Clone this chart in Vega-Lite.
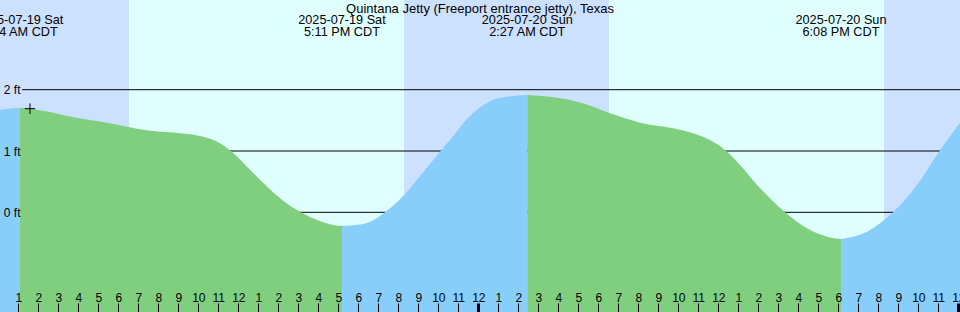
{
  "$schema": "https://vega.github.io/schema/vega-lite/v6.json",
  "width": 960,
  "height": 312,
  "padding": 0,
  "autosize": {"type": "none"},
  "background": "white",
  "view": {"stroke": null},
  "config": {"font": "Liberation Sans"},
  "datasets": {
    "bands": [
      {"start": 0, "end": 6.535, "kind": "night"},
      {"start": 6.535, "end": 20.285, "kind": "day"},
      {"start": 20.285, "end": 30.535, "kind": "night"},
      {"start": 30.535, "end": 44.285, "kind": "day"},
      {"start": 44.285, "end": 48.3, "kind": "night"}
    ],
    "grid": [{"ft": 0}, {"ft": 1}, {"ft": 2}],
    "tide": [
      {"h": 0, "ft": 1.668, "phase": "rise", "seg": 1},
      {"h": 0.5, "ft": 1.69, "phase": "rise", "seg": 1},
      {"h": 1.0667, "ft": 1.7, "phase": "rise", "seg": 1},
      {"h": 1.0667, "ft": 1.7, "phase": "fall", "seg": 2},
      {"h": 1.585, "ft": 1.688, "phase": "fall", "seg": 2},
      {"h": 2.585, "ft": 1.635, "phase": "fall", "seg": 2},
      {"h": 3.435, "ft": 1.572, "phase": "fall", "seg": 2},
      {"h": 5.085, "ft": 1.48, "phase": "fall", "seg": 2},
      {"h": 6.435, "ft": 1.396, "phase": "fall", "seg": 2},
      {"h": 7.585, "ft": 1.33, "phase": "fall", "seg": 2},
      {"h": 9.085, "ft": 1.289, "phase": "fall", "seg": 2},
      {"h": 10.085, "ft": 1.245, "phase": "fall", "seg": 2},
      {"h": 10.935, "ft": 1.15, "phase": "fall", "seg": 2},
      {"h": 11.685, "ft": 0.984, "phase": "fall", "seg": 2},
      {"h": 12.585, "ft": 0.695, "phase": "fall", "seg": 2},
      {"h": 13.435, "ft": 0.42, "phase": "fall", "seg": 2},
      {"h": 14.235, "ft": 0.19, "phase": "fall", "seg": 2},
      {"h": 15.085, "ft": 0.01, "phase": "fall", "seg": 2},
      {"h": 15.935, "ft": -0.125, "phase": "fall", "seg": 2},
      {"h": 16.735, "ft": -0.205, "phase": "fall", "seg": 2},
      {"h": 17.183, "ft": -0.224, "phase": "fall", "seg": 2},
      {"h": 17.183, "ft": -0.224, "phase": "rise", "seg": 3},
      {"h": 18.085, "ft": -0.2, "phase": "rise", "seg": 3},
      {"h": 18.685, "ft": -0.14, "phase": "rise", "seg": 3},
      {"h": 19.335, "ft": 0.0, "phase": "rise", "seg": 3},
      {"h": 20.285, "ft": 0.282, "phase": "rise", "seg": 3},
      {"h": 20.785, "ft": 0.47, "phase": "rise", "seg": 3},
      {"h": 21.435, "ft": 0.73, "phase": "rise", "seg": 3},
      {"h": 22.085, "ft": 0.989, "phase": "rise", "seg": 3},
      {"h": 22.585, "ft": 1.179, "phase": "rise", "seg": 3},
      {"h": 23.435, "ft": 1.52, "phase": "rise", "seg": 3},
      {"h": 24.235, "ft": 1.745, "phase": "rise", "seg": 3},
      {"h": 25.085, "ft": 1.87, "phase": "rise", "seg": 3},
      {"h": 26.45, "ft": 1.914, "phase": "rise", "seg": 3},
      {"h": 26.45, "ft": 1.914, "phase": "fall", "seg": 4},
      {"h": 27.585, "ft": 1.886, "phase": "fall", "seg": 4},
      {"h": 29.235, "ft": 1.778, "phase": "fall", "seg": 4},
      {"h": 30.585, "ft": 1.615, "phase": "fall", "seg": 4},
      {"h": 32.085, "ft": 1.462, "phase": "fall", "seg": 4},
      {"h": 33.735, "ft": 1.37, "phase": "fall", "seg": 4},
      {"h": 34.735, "ft": 1.289, "phase": "fall", "seg": 4},
      {"h": 35.585, "ft": 1.179, "phase": "fall", "seg": 4},
      {"h": 36.435, "ft": 0.989, "phase": "fall", "seg": 4},
      {"h": 37.085, "ft": 0.772, "phase": "fall", "seg": 4},
      {"h": 37.935, "ft": 0.45, "phase": "fall", "seg": 4},
      {"h": 38.735, "ft": 0.18, "phase": "fall", "seg": 4},
      {"h": 39.335, "ft": 0.0, "phase": "fall", "seg": 4},
      {"h": 40.435, "ft": -0.261, "phase": "fall", "seg": 4},
      {"h": 41.435, "ft": -0.398, "phase": "fall", "seg": 4},
      {"h": 42.133, "ft": -0.436, "phase": "fall", "seg": 4},
      {"h": 42.133, "ft": -0.436, "phase": "rise", "seg": 5},
      {"h": 43.435, "ft": -0.316, "phase": "rise", "seg": 5},
      {"h": 44.735, "ft": 0.0, "phase": "rise", "seg": 5},
      {"h": 45.935, "ft": 0.445, "phase": "rise", "seg": 5},
      {"h": 47.035, "ft": 0.989, "phase": "rise", "seg": 5},
      {"h": 48.085, "ft": 1.462, "phase": "rise", "seg": 5}
    ],
    "marker": [{"h": 1.585, "ft": 1.69}],
    "events": [
      {"h": 1.0667, "label": "2025-07-19 Sat\n1:04 AM CDT"},
      {"h": 17.183, "label": "2025-07-19 Sat\n5:11 PM CDT"},
      {"h": 26.45, "label": "2025-07-20 Sun\n2:27 AM CDT"},
      {"h": 42.133, "label": "2025-07-20 Sun\n6:08 PM CDT"}
    ],
    "heading": [{"title": "Quintana Jetty (Freeport entrance jetty), Texas"}]
  },
  "resolve": {"scale": {"color": "independent"}},
  "layer": [
    {
      "data": {"name": "bands"},
      "mark": {"type": "rect", "clip": true},
      "encoding": {
        "x": {
          "field": "start", "type": "quantitative",
          "scale": {"domain": [0.085, 48.085], "nice": false, "zero": false},
          "axis": {
            "title": null, "orient": "bottom",
            "values": [0,1,2,3,4,5,6,7,8,9,10,11,12,13,14,15,16,17,18,19,20,21,22,23,24,25,26,27,28,29,30,31,32,33,34,35,36,37,38,39,40,41,42,43,44,45,46,47,48],
            "tickCount": 200,
            "domain": false, "grid": false,
            "tickSize": -9, "tickColor": "black",
            "tickWidth": {"condition": {"test": "datum.value % 24 === 0", "value": 3}, "value": 1},
            "labelExpr": "datum.value % 12 === 0 ? '12' : '' + (datum.value % 12)",
            "labelPadding": -11, "labelFontSize": 12, "labelColor": "black",
            "labelFont": "Liberation Sans", "labelFlush": false, "labelOverlap": false,
            "labelBound": false, "labelAngle": 0, "zindex": 1
          }
        },
        "x2": {"field": "end"},
        "y": {
          "datum": 3.463, "type": "quantitative",
          "scale": {"domain": [-1.626, 3.463], "nice": false, "zero": false},
          "axis": {
            "title": null, "orient": "left", "values": [0, 1, 2],
            "domain": false, "ticks": false, "grid": false,
            "labelExpr": "datum.value + ' ft'", "labelAlign": "right",
            "labelBaseline": "middle", "labelPadding": -20,
            "labelFontSize": 12, "labelColor": "black", "labelFont": "Liberation Sans",
            "labelFlush": false, "labelOverlap": false, "zindex": 1
          }
        },
        "y2": {"datum": -1.626},
        "color": {
          "field": "kind", "type": "nominal",
          "scale": {"domain": ["night", "day"], "range": ["#CCE0FF", "#E0FFFF"]},
          "legend": null
        }
      }
    },
    {
      "data": {"name": "grid"},
      "mark": {"type": "rule", "color": "black", "strokeWidth": 1},
      "encoding": {
        "y": {"field": "ft", "type": "quantitative", "scale": {"domain": [-1.626, 3.463], "nice": false, "zero": false}},
        "x": {"datum": 1.185, "type": "quantitative", "scale": {"domain": [0.085, 48.085], "nice": false, "zero": false}},
        "x2": {"datum": 48.3}
      }
    },
    {
      "data": {"name": "tide"},
      "mark": {"type": "area", "interpolate": "monotone", "clip": true},
      "encoding": {
        "x": {"field": "h", "type": "quantitative", "scale": {"domain": [0.085, 48.085], "nice": false, "zero": false}},
        "y": {"field": "ft", "type": "quantitative", "scale": {"domain": [-1.626, 3.463], "nice": false, "zero": false}},
        "y2": {"datum": -1.626},
        "color": {
          "field": "phase", "type": "nominal",
          "scale": {"domain": ["rise", "fall"], "range": ["#87CEFA", "#7FCF7F"]},
          "legend": null
        },
        "detail": {"field": "seg", "type": "nominal"}
      }
    },
    {
      "data": {"name": "marker"},
      "mark": {"type": "point", "shape": "M-1,0H1M0,-1V1", "size": 110, "stroke": "black", "strokeWidth": 1, "filled": false, "opacity": 1},
      "encoding": {
        "x": {"field": "h", "type": "quantitative", "scale": {"domain": [0.085, 48.085], "nice": false, "zero": false}},
        "y": {"field": "ft", "type": "quantitative", "scale": {"domain": [-1.626, 3.463], "nice": false, "zero": false}}
      }
    },
    {
      "data": {"name": "events"},
      "mark": {"type": "text", "lineBreak": "\n", "baseline": "top", "align": "center", "fontSize": 12.7, "lineHeight": 12.5, "color": "black", "font": "Liberation Sans"},
      "encoding": {
        "x": {"field": "h", "type": "quantitative", "scale": {"domain": [0.085, 48.085], "nice": false, "zero": false}},
        "y": {"datum": 3.235, "type": "quantitative", "scale": {"domain": [-1.626, 3.463], "nice": false, "zero": false}},
        "text": {"field": "label"}
      }
    },
    {
      "data": {"name": "heading"},
      "mark": {"type": "text", "baseline": "top", "align": "center", "fontSize": 13, "color": "black", "font": "Liberation Sans"},
      "encoding": {
        "x": {"datum": 24.085, "type": "quantitative", "scale": {"domain": [0.085, 48.085], "nice": false, "zero": false}},
        "y": {"datum": 3.42, "type": "quantitative", "scale": {"domain": [-1.626, 3.463], "nice": false, "zero": false}},
        "text": {"field": "title"}
      }
    }
  ]
}
